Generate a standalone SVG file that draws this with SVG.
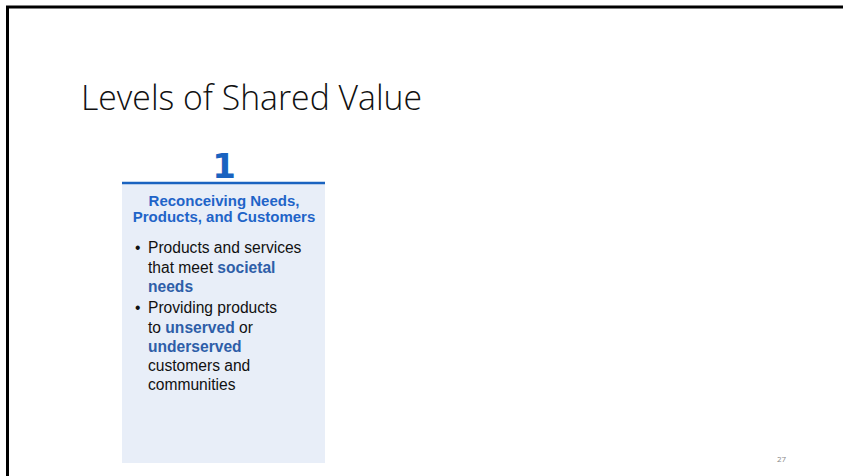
<svg xmlns="http://www.w3.org/2000/svg" width="843" height="476" viewBox="0 0 843 476">
<style>
.body{font-family:"Liberation Sans",Arial,sans-serif;font-size:15.6px;fill:#111}
.em{font-weight:bold;fill:#2E5EA8}
.head{font-family:"Liberation Sans",Arial,sans-serif;font-size:15px;font-weight:bold;fill:#1F64C8}
</style>
<rect x="0" y="0" width="843" height="476" fill="#fff"/>
<path d="M7.5 480 V7 H850" fill="none" stroke="#000" stroke-width="3"/>
<text x="81" y="110" font-family="'Open Sans',sans-serif" font-weight="300" font-size="35" fill="#111" textLength="341" lengthAdjust="spacingAndGlyphs">Levels of Shared Value</text>
<g id="level1">
<rect x="122" y="183" width="203" height="280" fill="#E8EEF8"/>
<line x1="122" y1="183" x2="325" y2="183" stroke="#1A63C0" stroke-width="2.5"/>
<text x="224" y="178" text-anchor="middle" font-family="'DejaVu Sans',sans-serif" font-weight="bold" font-size="34" fill="#1A63C0">1</text>
<text class="head" x="224" y="206" text-anchor="middle">Reconceiving Needs,</text>
<text class="head" x="224" y="222" text-anchor="middle">Products, and Customers</text>
<text class="body" x="135" y="253" font-size="12">•</text>
<text class="body" x="148" y="253">Products and services</text>
<text class="body" x="148" y="273">that meet <tspan class="em">societal</tspan></text>
<text class="body" x="148" y="292"><tspan class="em">needs</tspan></text>
<text class="body" x="135" y="313" font-size="12">•</text>
<text class="body" x="148" y="313">Providing products</text>
<text class="body" x="148" y="333">to <tspan class="em">unserved</tspan> or</text>
<text class="body" x="148" y="352"><tspan class="em">underserved</tspan></text>
<text class="body" x="148" y="371">customers and</text>
<text class="body" x="148" y="390">communities</text>
</g>
<g id="connectors"></g>
<text x="777" y="462" font-family="'Open Sans',sans-serif" font-size="8" fill="#888">27</text>
</svg>
